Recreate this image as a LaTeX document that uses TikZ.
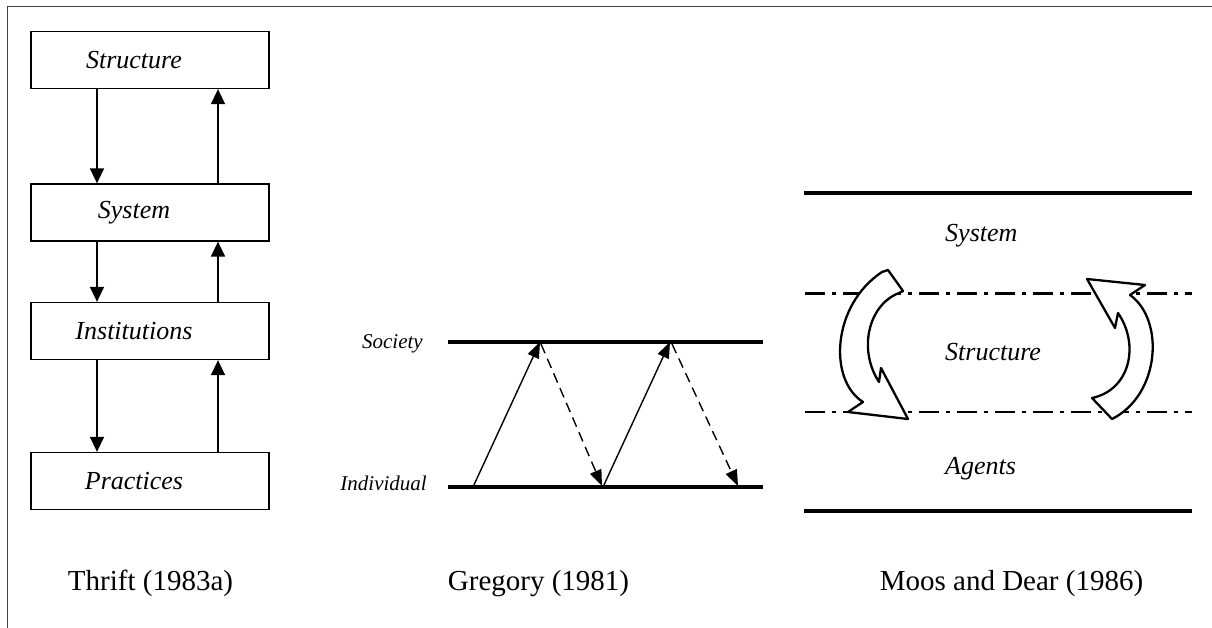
\documentclass[tikz,border=0pt]{standalone}
\usepackage{fontspec}
\setmainfont{Liberation Serif}
\usetikzlibrary{arrows.meta}
\begin{document}
\begin{tikzpicture}[x=1pt,y=-1pt,
  frame/.style={line width=1pt,black!75},
  box/.style={draw,line width=1.3pt,minimum width=238pt,minimum height=57pt,inner sep=0pt},
  lab/.style={font=\fontsize{26}{30}\selectfont\itshape,inner sep=0pt},
  rlab/.style={font=\fontsize{26}{30}\selectfont\itshape,inner sep=0pt,anchor=base west},
  captext/.style={font=\fontsize{29}{34}\selectfont,inner sep=0pt,anchor=base},
  small/.style={font=\fontsize{21}{25}\selectfont\itshape,inner sep=0pt,anchor=base east},
  arr/.style={line width=1.5pt,-{Triangle[length=15pt,width=14pt]}},
  marr/.style={line width=1.4pt,-{Triangle[length=16pt,width=12pt]}},
  darr/.style={marr,dash pattern=on 10pt off 6pt},
  thickline/.style={line width=4pt},
  dashdot/.style={line width=2.4pt,dash pattern=on 20pt off 7pt on 4pt off 7pt},
  blockarrow/.style={draw,fill=white,line width=2.3pt,line join=round}
]
\useasboundingbox (0,0) rectangle (1212,628);
\draw[frame] (7,628) -- (7,7) -- (1212,7);

% ---------- Thrift ----------
\node[box] (st) at (150,60) {};
\node[box] (sy) at (150,212.5) {};
\node[box] (in) at (150,331) {};
\node[box] (pr) at (150,481) {};
\node[lab] (stt) at (134,60) {Structure};
\node[lab] (syt) at (134,212.5) {System};
\node[lab] (int) at (134,331) {Institutions};
\node[lab] (prt) at (134,481) {Practices};
\coordinate (xL) at (97,0);
\coordinate (xR) at (218,0);
\draw[arr] (st.south -| xL) -- (sy.north -| xL);
\draw[arr] (sy.north -| xR) -- (st.south -| xR);
\draw[arr] (sy.south -| xL) -- (in.north -| xL);
\draw[arr] (in.north -| xR) -- (sy.south -| xR);
\draw[arr] (in.south -| xL) -- (pr.north -| xL);
\draw[arr] (pr.north -| xR) -- (in.south -| xR);
\node[captext] (c1) at (150.5,590) {Thrift (1983a)};

% ---------- Gregory ----------
\coordinate (s1) at (448,342);
\coordinate (s2) at (763,342);
\coordinate (i1) at (448,487);
\coordinate (i2) at (763,487);
\draw[thickline] (s1) -- (s2);
\draw[thickline] (i1) -- (i2);
\node[small] (soc) at (423,348) {Society};
\node[small] (ind) at (427,490) {Individual};
\coordinate (g1) at (473,487);
\coordinate (g2) at (540,342);
\coordinate (g3) at (541,344);
\coordinate (g4) at (602,486);
\coordinate (g5) at (603,487);
\coordinate (g6) at (670,342);
\coordinate (g7) at (672,344);
\coordinate (g8) at (738,486);
\draw[marr] (g1) -- (g2);
\draw[darr] (g3) -- (g4);
\draw[marr] (g5) -- (g6);
\draw[darr] (g7) -- (g8);
\node[captext] (c2) at (538.5,590) {Gregory (1981)};

% ---------- Moos and Dear ----------
\draw[thickline] (804,193) -- (1192,193);
\draw[thickline] (804,511) -- (1192,511);
\draw[dashdot] (805,293.5) -- (1192,293.5);
\draw[dashdot] (805,412) -- (1192,412);
\node[rlab] (msy) at (945,242) {System};
\node[rlab] (mst) at (945,360) {Structure};
\node[rlab] (mag) at (945,474) {Agents};

\path[blockarrow] (899,293) .. controls (868,305) and (858,350) .. (879,382)
  -- (881,368) -- (908,419) -- (848,412) -- (863,402)
  .. controls (828,380) and (832,305) .. (882,272)
  -- (888,270) -- (903,291) -- cycle;

\path[blockarrow] (1087,279) -- (1145,285) -- (1130,295)
  .. controls (1165,320) and (1160,395) .. (1112,419)
  -- (1092,398)
  .. controls (1130,390) and (1140,345) .. (1118,313)
  -- (1115,328) -- cycle;

\node[captext] (c3) at (1011.5,590) {Moos and Dear (1986)};
\end{tikzpicture}
\end{document}
